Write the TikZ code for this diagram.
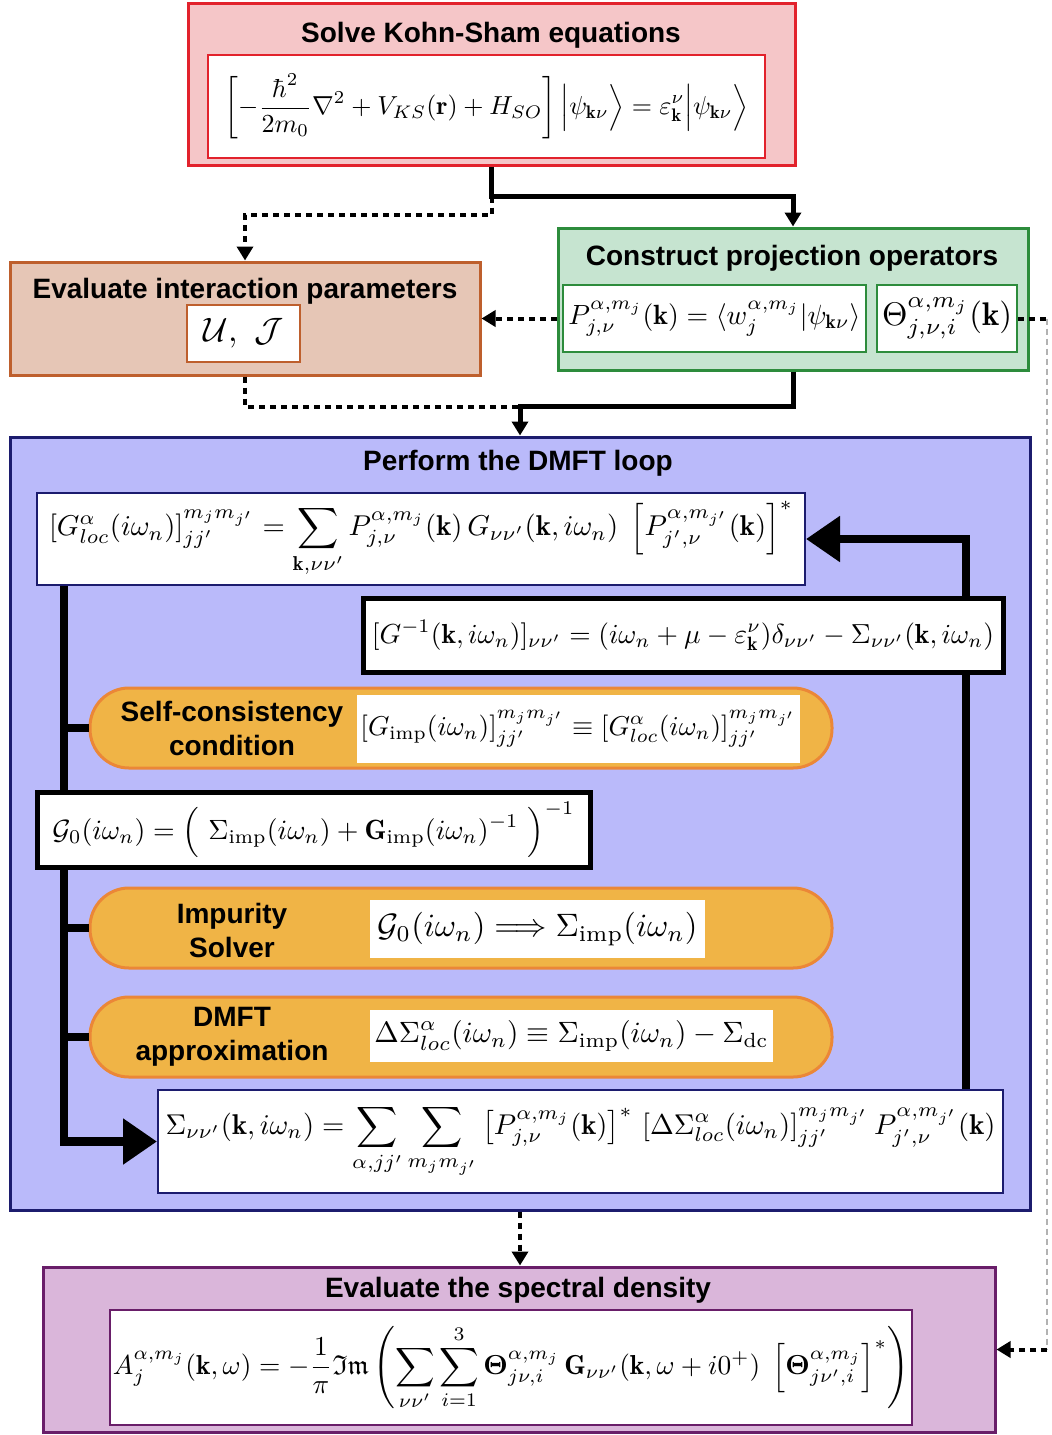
\documentclass[tikz,border=0pt]{standalone}
\usepackage{amsmath,amssymb,amsfonts}
\usepackage{fontspec}
\setsansfont{Liberation Sans}
\usetikzlibrary{arrows.meta}

\definecolor{ksfill}{RGB}{245,198,200}
\definecolor{ksline}{RGB}{226,34,44}
\definecolor{ujfill}{RGB}{230,198,182}
\definecolor{ujline}{RGB}{190,95,45}
\definecolor{prfill}{RGB}{198,228,208}
\definecolor{prline}{RGB}{45,140,60}
\definecolor{dmfill}{RGB}{186,186,250}
\definecolor{dmline}{RGB}{28,28,110}
\definecolor{pillfill}{RGB}{240,180,70}
\definecolor{pillline}{RGB}{235,135,55}
\definecolor{spfill}{RGB}{218,182,218}
\definecolor{spline}{RGB}{105,30,105}

\newcommand{\fiteq}[2]{\resizebox{#1}{!}{$\displaystyle #2$}}
\newcommand{\kb}{\mathbf{k}}

\tikzset{
  heading/.style={font=\sffamily\bfseries\fontsize{14}{17}\selectfont, align=center},
  panel/.style={draw, line width=1.5pt},
  eqbox/.style={draw, fill=white, line width=1pt, inner sep=0pt},
  blackbox/.style={draw=black, fill=white, line width=2.5pt, inner sep=0pt},
  eqfill/.style={fill=white, inner sep=0pt},
  pill/.style={draw=pillline, fill=pillfill, line width=1.5pt, rounded corners=19.5pt,
    minimum width=371pt, minimum height=40pt},
  tip/.style={-{Triangle[length=7pt,width=8pt]}},
  flow/.style={line width=2.5pt, tip},
  dotline/.style={line width=2pt, dash pattern=on 3pt off 2.5pt},
  loopline/.style={line width=4.25pt},
  bigtip/.style={-{Triangle[length=17pt,width=22pt]}},
}

\begin{document}
\begin{tikzpicture}[x=0.5pt, y=-0.5pt]
\useasboundingbox (0,0) rectangle (1052,1435);

% Kohn-Sham
\node[panel, draw=ksline, fill=ksfill, minimum width=303.5pt, minimum height=81pt] (ks) at (491.5,84) {};
\node[heading] (kstitle) at (491,35) {Solve Kohn-Sham equations};
\node[eqbox, draw=ksline, minimum width=278.5pt, minimum height=51.5pt] (kseq) at (486.5,106.5)
  {\fiteq{262pt}{\left[-\frac{\hbar^2}{2m_0}\nabla^2+V_{KS}(\mathbf{r})+H_{SO}\right]\Bigl|\psi_{\kb\nu}\Bigr\rangle=\varepsilon^{\nu}_{\kb}\Bigl|\psi_{\kb\nu}\Bigr\rangle}};

% interaction parameters
\node[panel, draw=ujline, fill=ujfill, minimum width=235pt, minimum height=56.5pt] (uj) at (245,318.5) {};
\node[heading] (ujtitle) at (245,291) {Evaluate interaction parameters};
\node[eqbox, draw=ujline, minimum width=56.5pt, minimum height=28.5pt] (ujeq) at (243.5,333.5)
  {\fiteq{40pt}{\mathcal{U},\ \mathcal{J}}};

% projectors
\node[panel, draw=prline, fill=prfill, minimum width=235pt, minimum height=71pt] (proj) at (793,299) {};
\node[heading] (projtitle) at (792,258) {Construct projection operators};
\node[eqbox, draw=prline, minimum width=151.5pt, minimum height=33.5pt] (peq) at (714.5,318.5)
  {\fiteq{146pt}{P^{\alpha,m_j}_{j,\nu}(\kb)=\langle w^{\alpha,m_j}_{j}|\psi_{\kb\nu}\rangle}};
\node[eqbox, draw=prline, minimum width=70pt, minimum height=33.5pt] (theta) at (947,318.5)
  {\fiteq{65pt}{\Theta^{\alpha,m_j}_{j,\nu,i}(\kb)}};

% DMFT loop
\node[panel, draw=dmline, fill=dmfill, minimum width=510pt, minimum height=386.5pt] (dmft) at (520,823.5) {};
\node[heading] (dmfttitle) at (518,463) {Perform the DMFT loop};
\node[eqbox, draw=dmline, minimum width=384pt, minimum height=46pt] (gloc) at (421,539)
  {\fiteq{372pt}{[G^{\alpha}_{loc}(i\omega_n)]^{m_jm_{j'}}_{jj'}=\sum_{\kb,\nu\nu'}P^{\alpha,m_j}_{j,\nu}(\kb)\,G_{\nu\nu'}(\kb,i\omega_n)\;\left[P^{\alpha,m_{j'}}_{j',\nu}(\kb)\right]^*}};

\node[pill] (sc) at (461,728) {};
\node[heading] (sctext) at (232,728) {Self-consistency\\condition};
\node[eqfill, minimum width=221.5pt, minimum height=34pt] (sceq) at (578.5,729)
  {\fiteq{218pt}{\left[G_{\mathrm{imp}}(i\omega_n)\right]^{m_jm_{j'}}_{jj'}\equiv\left[G^{\alpha}_{loc}(i\omega_n)\right]^{m_jm_{j'}}_{jj'}}};

\node[pill] (imp) at (461,928) {};
\node[heading] (imptext) at (232,930) {Impurity\\Solver};
\node[eqfill, minimum width=167.5pt, minimum height=29pt] (impeq) at (537.5,929)
  {\fiteq{160pt}{\mathcal{G}_0(i\omega_n)\Longrightarrow\Sigma_{\mathrm{imp}}(i\omega_n)}};

\node[pill] (dmfta) at (461,1037) {};
\node[heading] (dmftatext) at (232,1037) {DMFT\\approximation};
\node[eqfill, minimum width=201.5pt, minimum height=26pt] (dmftaeq) at (571.5,1036)
  {\fiteq{197pt}{\Delta\Sigma^{\alpha}_{loc}(i\omega_n)\equiv\Sigma_{\mathrm{imp}}(i\omega_n)-\Sigma_{\mathrm{dc}}}};

\node[eqbox, draw=dmline, minimum width=422.5pt, minimum height=51.5pt] (sig) at (580.5,1141.5)
  {\fiteq{415pt}{\Sigma_{\nu\nu'}(\kb,i\omega_n)=\sum_{\alpha,jj'}\sum_{m_jm_{j'}}\left[P^{\alpha,m_j}_{j,\nu}(\kb)\right]^*\,[\Delta\Sigma^{\alpha}_{loc}(i\omega_n)]^{m_jm_{j'}}_{jj'}\,P^{\alpha,m_{j'}}_{j',\nu}(\kb)}};

% loop lines
\coordinate (lft) at ([xshift=14pt]gloc.south west);
\draw[loopline, bigtip] (lft) |- (sig.west);
\foreach \p in {sc,imp,dmfta}
  \draw[loopline] (lft |- \p.west) -- (\p.west);
\draw[loopline, bigtip] ([xshift=-19pt]sig.north east) |- (gloc.east);

\node[blackbox, minimum width=320pt, minimum height=37pt] (ginv) at (683,635)
  {\fiteq{311pt}{[G^{-1}(\kb,i\omega_n)]_{\nu\nu'}=(i\omega_n+\mu-\varepsilon^{\nu}_{\kb})\delta_{\nu\nu'}-\Sigma_{\nu\nu'}(\kb,i\omega_n)}};
\node[blackbox, minimum width=276.5pt, minimum height=37.5pt] (g0) at (313.5,829.5)
  {\fiteq{261pt}{\mathcal{G}_0(i\omega_n)=\Bigl(\ \Sigma_{\mathrm{imp}}(i\omega_n)+\mathbf{G}_{\mathrm{imp}}(i\omega_n)^{-1}\ \Bigr)^{-1}}};

% spectral density
\node[panel, draw=spline, fill=spfill, minimum width=476pt, minimum height=82.5pt] (spec) at (519,1349.5) {};
\node[heading] (spectitle) at (518,1290) {Evaluate the spectral density};
\node[eqbox, draw=spline, minimum width=401pt, minimum height=57.5pt] (speceq) at (511,1367.5)
  {\fiteq{398pt}{A^{\alpha,m_j}_{j}(\kb,\omega)=-\frac{1}{\pi}\mathfrak{Im}\left(\sum_{\nu\nu'}\sum_{i=1}^{3}\boldsymbol{\Theta}^{\alpha,m_j}_{j\nu,i}\,\mathbf{G}_{\nu\nu'}(\kb,\omega+i0^+)\;\left[\boldsymbol{\Theta}^{\alpha,m_j}_{j\nu',i}\right]^*\right)}};

% connectors
\draw[flow] (ks.south) -- ++(0,30) coordinate (split) -| (proj.north);
\draw[dotline, tip] (split) -- ++(0,18) -| (uj.north);
\draw[dotline, tip] (proj.west |- peq.west) -- (uj.east);
\draw[flow] (proj.south) -- ++(0,35) coordinate (merge) -| (dmft.north);
\draw[dotline] (uj.south) |- (merge -| dmft.north);
\coordinate (rtop) at (1047,318.5);
\coordinate (rbot) at (1047,1349.5);
\draw[dotline] (theta.east) -- (rtop);
\draw[gray!60, densely dashed, line width=0.6pt] (rtop) -- (rbot);
\draw[dotline, tip] (rbot) -- (spec.east);
\draw[dotline, tip] (dmft.south) -- (dmft.south |- spec.north);
\end{tikzpicture}
\end{document}
